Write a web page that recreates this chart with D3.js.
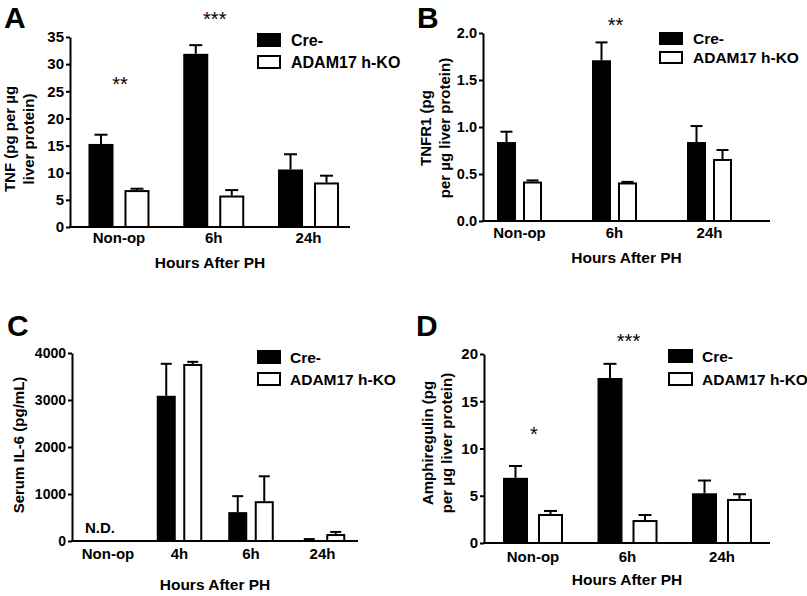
<!DOCTYPE html>
<html>
<head>
<meta charset="utf-8">
<script src="https://cdn.jsdelivr.net/npm/d3@7"></script>
<style>
  html, body { margin: 0; padding: 0; background: #fff; }
  svg { display: block; }
  text { font-family: "Liberation Sans", Arial, sans-serif; fill: #000; }
</style>
</head>
<body>
<svg id="chart" width="807" height="596"></svg>
<script>
// ---------------- DATA ----------------
const seriesNames = ["Cre-", "ADAM17 h-KO"];
const xTitle = "Hours After PH";

// Panel A – TNF
const catsA = ["Non-op", "6h", "24h"];
const creA = [15.3, 31.9, 10.6];
const creSemA = [1.7, 1.6, 2.8];
const koA = [6.8, 5.8, 8.2];
const koSemA = [0.25, 1.0, 1.25];
const ticksA = [0, 5, 10, 15, 20, 25, 30, 35];
const yLabelA = ["TNF (pg per \u00b5g", "liver protein)"];
const starsA = [{cat: "Non-op", text: "**", y: 27.0}, {cat: "6h", text: "***", y: 39.1}];

// Panel B – TNFR1
const catsB = ["Non-op", "6h", "24h"];
const creB = [0.84, 1.71, 0.84];
const creSemB = [0.11, 0.19, 0.17];
const koB = [0.42, 0.41, 0.66];
const koSemB = [0.012, 0.006, 0.095];
const ticksB = [0, 0.5, 1.0, 1.5, 2.0];
const yLabelB = ["TNFR1 (pg", "per \u00b5g liver protein)"];
const starsB = [{cat: "6h", text: "**", y: 2.13}];

// Panel C – Serum IL-6
const catsC = ["Non-op", "4h", "6h", "24h"];
const creC = [null, 3090, 614, 21];
const creSemC = [null, 680, 340, 19];
const koC = [null, 3767, 847, 148];
const koSemC = [null, 45, 530, 45];
const ticksC = [0, 1000, 2000, 3000, 4000];
const yLabelC = ["Serum IL-6 (pg/mL)"];
const starsC = [];
const notesC = [{cat: "Non-op", text: "N.D."}];

// Panel D – Amphiregulin
const catsD = ["Non-op", "6h", "24h"];
const creD = [6.9, 17.46, 5.26];
const creSemD = [1.25, 1.5, 1.35];
const koD = [3.07, 2.43, 4.66];
const koSemD = [0.32, 0.53, 0.5];
const ticksD = [0, 5, 10, 15, 20];
const yLabelD = ["Amphiregulin (pg", "per \u00b5g liver protein)"];
const starsD = [{cat: "Non-op", text: "*", y: 11.96}, {cat: "6h", text: "***", y: 21.85}];

// ---------------- LAYOUT ----------------
const panels = [
  { letter: "A", lx: 4, ly: 28, cats: catsA, cre: creA, creSem: creSemA, ko: koA, koSem: koSemA,
    ticks: ticksA, fmt: d3.format("d"), ymax: 35, yLabel: yLabelA, stars: starsA, notes: [],
    axisX: 70, axisRight: 350, yTop: 37, y0: 227, band: [71.6, 355.9], bw: 25, gap: 11, cap: 13,
    tickFont: 15, ylabX: 15, ylabY: 139, catY: 243, titleY: 268,
    leg: {x: 257, y: 33, w: 24, h: 14, dy: 22, tx: 291, font: 16} },
  { letter: "B", lx: 417, ly: 28, cats: catsB, cre: creB, creSem: creSemB, ko: koB, koSem: koSemB,
    ticks: ticksB, fmt: d3.format(".1f"), ymax: 2.0, yLabel: yLabelB, stars: starsB, notes: [],
    axisX: 483, axisRight: 770, yTop: 33, y0: 221, band: [472, 757], bw: 19, gap: 7, cap: 12,
    tickFont: 14.5, ylabX: 431, ylabY: 128, catY: 238, titleY: 263,
    leg: {x: 659, y: 32, w: 24, h: 13, dy: 19, tx: 693, font: 15.5} },
  { letter: "C", lx: 7, ly: 336, cats: catsC, cre: creC, creSem: creSemC, ko: koC, koSem: koSemC,
    ticks: ticksC, fmt: d3.format("d"), ymax: 4000, yLabel: yLabelC, stars: starsC, notes: notesC,
    axisX: 72, axisRight: 358, yTop: 353, y0: 541, band: [72.25, 358.25], bw: 19, gap: 7.5, cap: 11,
    tickFont: 14, ylabX: 24, ylabY: 445, catY: 559, titleY: 590,
    leg: {x: 257, y: 350, w: 24, h: 14, dy: 22, tx: 290, font: 15.5} },
  { letter: "D", lx: 416, ly: 336, cats: catsD, cre: creD, creSem: creSemD, ko: koD, koSem: koSemD,
    ticks: ticksD, fmt: d3.format("d"), ymax: 20, yLabel: yLabelD, stars: starsD, notes: [],
    axisX: 484, axisRight: 770, yTop: 354, y0: 543, band: [485.75, 769.25], bw: 25, gap: 10, cap: 13,
    tickFont: 15, ylabX: 433, ylabY: 443, catY: 562, titleY: 585,
    leg: {x: 668, y: 349, w: 25, h: 14, dy: 23, tx: 702, font: 15.5} }
];

const svg = d3.select("#chart");

panels.forEach(p => {
  const g = svg.append("g");
  const y = d3.scaleLinear().domain([0, p.ymax]).range([p.y0, p.yTop]);
  const x = d3.scaleBand().domain(p.cats).range(p.band).paddingInner(0).paddingOuter(0);
  const total = 2 * p.bw + p.gap;
  const xs = d3.scaleBand().domain(seriesNames).range([0, total])
    .paddingInner(p.gap / (p.bw + p.gap)).paddingOuter(0);

  // panel letter
  g.append("text").attr("x", p.lx).attr("y", p.ly)
    .attr("font-size", 30).attr("font-weight", "bold").text(p.letter);

  // bars
  const rows = [];
  p.cats.forEach((c, i) => {
    rows.push({cat: c, s: seriesNames[0], v: p.cre[i], e: p.creSem[i]});
    rows.push({cat: c, s: seriesNames[1], v: p.ko[i], e: p.koSem[i]});
  });
  const data = rows.filter(d => d.v != null);
  const cx = d => x(d.cat) + x.bandwidth() / 2 - total / 2 + xs(d.s) + xs.bandwidth() / 2;

  // error bars (upper only)
  const eb = g.append("g").attr("stroke", "#000").attr("stroke-width", 2);
  eb.selectAll("line.v").data(data).join("line")
    .attr("x1", cx).attr("x2", cx)
    .attr("y1", d => y(d.v)).attr("y2", d => y(d.v + d.e));
  eb.selectAll("line.c").data(data).join("line")
    .attr("x1", d => cx(d) - p.cap / 2).attr("x2", d => cx(d) + p.cap / 2)
    .attr("y1", d => y(d.v + d.e)).attr("y2", d => y(d.v + d.e));

  g.append("g").selectAll("rect").data(data).join("rect")
    .attr("x", d => cx(d) - xs.bandwidth() / 2 + 1)
    .attr("y", d => y(d.v) + 1)
    .attr("width", xs.bandwidth() - 2)
    .attr("height", d => Math.max(0, y(0) - y(d.v) - 1))
    .attr("fill", d => d.s === seriesNames[0] ? "#000" : "#fff")
    .attr("stroke", "#000").attr("stroke-width", 2);

  // y axis
  const ya = g.append("g").attr("transform", `translate(${p.axisX},0)`)
    .call(d3.axisLeft(y).tickValues(p.ticks).tickFormat(p.fmt).tickSize(4).tickSizeOuter(0).tickPadding(2));
  ya.select(".domain").attr("stroke-width", 2).attr("stroke", "#000");
  ya.selectAll(".tick line").attr("stroke-width", 2).attr("stroke", "#000");
  ya.selectAll(".tick text").attr("font-size", p.tickFont).attr("font-weight", "bold")
    .attr("font-family", "Liberation Sans, Arial, sans-serif").attr("fill", "#000");

  // x axis
  g.append("line").attr("x1", p.axisX - 1).attr("x2", p.axisRight)
    .attr("y1", p.y0).attr("y2", p.y0).attr("stroke", "#000").attr("stroke-width", 2);
  const xa = g.append("g").attr("transform", `translate(0,${p.y0})`)
    .call(d3.axisBottom(x).tickSize(0).tickPadding(0));
  xa.select(".domain").remove();
  xa.selectAll(".tick text").attr("y", p.catY - p.y0).attr("dy", 0)
    .attr("font-size", 15).attr("font-weight", "bold")
    .attr("font-family", "Liberation Sans, Arial, sans-serif").attr("fill", "#000");

  // x title
  g.append("text").attr("x", (p.axisX + p.axisRight) / 2).attr("y", p.titleY)
    .attr("text-anchor", "middle").attr("font-size", 15.5).attr("font-weight", "bold").text(xTitle);

  // y title
  const yl = g.append("text").attr("transform", `translate(${p.ylabX},${p.ylabY}) rotate(-90)`)
    .attr("text-anchor", "middle").attr("font-size", 15).attr("font-weight", "bold");
  p.yLabel.forEach((t, i) => yl.append("tspan").attr("x", 0).attr("y", i * 19).text(t));

  // significance stars
  g.selectAll("text.star").data(p.stars).join("text").attr("class", "star")
    .attr("x", d => x(d.cat) + x.bandwidth() / 2 + 1)
    .attr("y", d => y(d.y) + 11)
    .attr("text-anchor", "middle").attr("font-size", 20).text(d => d.text);

  // notes (N.D.)
  g.selectAll("text.note").data(p.notes).join("text").attr("class", "note")
    .attr("x", d => x(d.cat) + x.bandwidth() / 2 - 8)
    .attr("y", p.y0 - 8)
    .attr("text-anchor", "middle").attr("font-size", 15).attr("font-weight", "bold").text(d => d.text);

  // legend
  const lg = g.append("g");
  seriesNames.forEach((s, i) => {
    lg.append("rect").attr("x", p.leg.x + 1).attr("y", p.leg.y + i * p.leg.dy + 1)
      .attr("width", p.leg.w - 2).attr("height", p.leg.h - 2)
      .attr("fill", i === 0 ? "#000" : "#fff").attr("stroke", "#000").attr("stroke-width", 2);
    lg.append("text").attr("x", p.leg.tx).attr("y", p.leg.y + i * p.leg.dy + p.leg.h - 1)
      .attr("font-size", p.leg.font).attr("font-weight", "bold").text(s);
  });
});
</script>
</body>
</html>
